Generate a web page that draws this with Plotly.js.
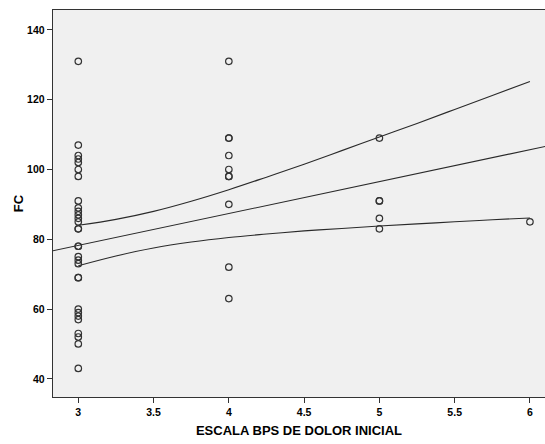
<!DOCTYPE html>
<html>
<head>
<meta charset="utf-8">
<script src="https://cdn.plot.ly/plotly-3.0.1.min.js"></script>
<style>
html,body{margin:0;padding:0;background:#fff;overflow:hidden;}
#chart{width:545px;height:444px;}
</style>
</head>
<body>
<div id="chart"></div>
<script>
// Observed points: FC values at each BPS level
var bpsLevels = [3, 4, 5, 6];
var fcAt3 = [131,107,104,103,102,100,98,91,89,88,87,86,85,83,83,78,78,75,74,73,69,69,60,59,58,57,53,52,50,43];
var fcAt4 = [131,109,109,104,100,98,98,90,72,63];
var fcAt5 = [109,91,91,86,83];
var fcAt6 = [85];

// Fit line
var fitX = [2.8, 6.2];
var fitY = [76.4, 107.5];

// 95% confidence band for the mean
var ciX     = [3, 3.25, 3.5, 3.75, 4, 4.25, 4.5, 4.75, 5, 5.25, 5.5, 5.75, 6];
var ciUpper = [84.0, 85.7, 88.0, 90.9, 94.2, 97.8, 101.5, 105.4, 109.3, 113.2, 117.2, 121.2, 125.2];
var ciLower = [72.4, 75.2, 77.5, 79.2, 80.5, 81.5, 82.4, 83.1, 83.8, 84.4, 85.0, 85.6, 86.1];

var xTickVals = [3, 3.5, 4, 4.5, 5, 5.5, 6];
var yTickVals = [40, 60, 80, 100, 120, 140];

var groups = [fcAt3, fcAt4, fcAt5, fcAt6];
var ptsX = [], ptsY = [];
groups.forEach(function(g, i){
  g.forEach(function(v){ ptsX.push(bpsLevels[i]); ptsY.push(v); });
});

var lineStyle = {color:'#2a2a2a', width:1.1};
var traces = [
  {x: fitX, y: fitY, mode:'lines', line: lineStyle, hoverinfo:'skip'},
  {x: ciX, y: ciUpper, mode:'lines', line: Object.assign({shape:'spline'}, lineStyle), hoverinfo:'skip'},
  {x: ciX, y: ciLower, mode:'lines', line: Object.assign({shape:'spline'}, lineStyle), hoverinfo:'skip'},
  {x: ptsX, y: ptsY, mode:'markers',
   marker:{symbol:'circle-open', size:6.5, color:'#333333', line:{width:1.2, color:'#333333'}}}
];

var tickFont = {family:'Liberation Sans, Arial, sans-serif', size:10.5, color:'#000', weight:'bold'};
var titleFont = {family:'Liberation Sans, Arial, sans-serif', size:13, color:'#000', weight:'bold'};

var layout = {
  width:545, height:444,
  margin:{l:53, r:0, t:10, b:47},
  paper_bgcolor:'#ffffff',
  plot_bgcolor:'#f0f0f0',
  showlegend:false,
  xaxis:{
    range:[2.832, 6.1],
    tickvals:xTickVals,
    ticks:'outside', ticklen:5, tickwidth:1, tickcolor:'#333',
    showline:true, linecolor:'#333', linewidth:1.3, mirror:true,
    showgrid:false, zeroline:false,
    tickfont:tickFont,
    title:{text:'ESCALA BPS DE DOLOR INICIAL', font:titleFont, standoff:9}
  },
  yaxis:{
    range:[34.8, 145.7],
    tickvals:yTickVals,
    ticks:'outside', ticklen:5, tickwidth:1, tickcolor:'#333',
    showline:true, linecolor:'#333', linewidth:1.3, mirror:false,
    showgrid:false, zeroline:false,
    tickfont:tickFont,
    title:{text:'FC', font:titleFont, standoff:0}
  }
};

Plotly.newPlot('chart', traces, layout, {displayModeBar:false, staticPlot:true});
</script>
</body>
</html>
